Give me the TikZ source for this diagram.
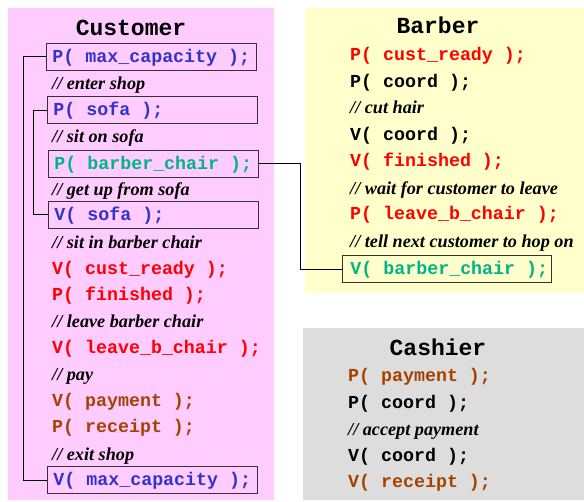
\documentclass[tikz,border=0pt]{standalone}
\usepackage{fontspec}
\setmainfont{Liberation Serif}
\newfontfamily\codefont{Liberation Mono}[BoldFont={* Bold}]
\newfontfamily\cmtfont{Liberation Serif}
\newcommand\csp{\hspace*{0.6em}}
\definecolor{cpink}{HTML}{FFCCFF}
\definecolor{cyellow}{HTML}{FFFFCC}
\definecolor{cgray}{HTML}{DDDDDD}
\definecolor{cblue}{HTML}{3333CC}
\definecolor{cteal}{HTML}{00B488}
\definecolor{cred}{HTML}{FF0000}
\definecolor{cbrown}{HTML}{A54200}
\tikzset{
  code/.style={anchor=west,inner sep=0pt,font=\codefont\bfseries\fontsize{18.3}{20}\selectfont,text height=13pt,text depth=2pt},
  cmt/.style={anchor=west,inner sep=0pt,font=\cmtfont\bfseries\itshape\fontsize{18.2}{20}\selectfont,text height=13pt,text depth=2pt},
  ttl/.style={inner sep=0pt,font=\codefont\bfseries\fontsize{23}{25}\selectfont},
  codebox/.style={code,draw=black!80,line width=0.9pt,text width=198pt,inner xsep=6pt,minimum height=27pt},
  link/.style={draw=black,line width=0.8pt},
}
\begin{document}
\begin{tikzpicture}[x=1pt,y=-1pt]
\useasboundingbox (0,0) rectangle (584,501);
% panels
\fill[cpink] (8,8) rectangle (274,500);
\fill[cyellow] (305,8) rectangle (584,293);
\fill[cgray] (303,328) rectangle (584,500);
% Customer
\node[ttl] (ctitle) at (131,28) {Customer};
\node[codebox,text=cblue] (pmax) at (46,56.5) {P(\csp max\_capacity\csp);};
\node[cmt] (c1) at (52,84) {// enter shop};
\node[codebox,text=cblue] (psofa) at (47,110) {P(\csp sofa\csp);};
\node[cmt] (c2) at (52,137) {// sit on sofa};
\node[codebox,text=cteal] (pbc) at (48,163.5) {P(\csp barber\_chair\csp);};
\node[cmt] (c3) at (52,190) {// get up from sofa};
\node[codebox,text=cblue] (vsofa) at (48,214.5) {V(\csp sofa\csp);};
\node[cmt] (c4) at (52,243) {// sit in barber chair};
\node[code,text=cred] (vcr) at (52,269) {V(\csp cust\_ready\csp);};
\node[code,text=cred] (pfin) at (52,295) {P(\csp finished\csp);};
\node[cmt] (c5) at (52,322) {// leave barber chair};
\node[code,text=cred] (vlbc) at (52,348) {V(\csp leave\_b\_chair\csp);};
\node[cmt] (c6) at (52,375) {// pay};
\node[code,text=cbrown] (vpay) at (52,401) {V(\csp payment\csp);};
\node[code,text=cbrown] (prec) at (52,427) {P(\csp receipt\csp);};
\node[cmt] (c7) at (52,455) {// exit shop};
\node[codebox,text=cblue] (vmax) at (47,480) {V(\csp max\_capacity\csp);};
% Barber
\node[ttl] (btitle) at (438,25) {Barber};
\node[code,text=cred] (bpcr) at (350,55) {P(\csp cust\_ready\csp);};
\node[code,text=black] (bpco) at (350,82) {P(\csp coord\csp);};
\node[cmt] (b1) at (350,108) {// cut hair};
\node[code,text=black] (bvco) at (350,135) {V(\csp coord\csp);};
\node[code,text=cred] (bvfin) at (350,161) {V(\csp finished\csp);};
\node[cmt] (b2) at (350,189) {// wait for customer to leave};
\node[code,text=cred] (bplbc) at (350,214) {P(\csp leave\_b\_chair\csp);};
\node[cmt] (b3) at (350,242) {// tell next customer to hop on};
\node[codebox,text=cteal,text width=193pt,inner xsep=8pt] (vbc) at (342,269) {V(\csp barber\_chair\csp);};
% Cashier
\node[ttl] (cstitle) at (438,347) {Cashier};
\node[code,text=cbrown] (kppay) at (348,376) {P(\csp payment\csp);};
\node[code,text=black] (kpco) at (348,403) {P(\csp coord\csp);};
\node[cmt] (k1) at (348,430) {// accept payment};
\node[code,text=black] (kvco) at (348,456) {V(\csp coord\csp);};
\node[code,text=cbrown] (kvrec) at (348,482) {V(\csp receipt\csp);};
% connectors
\draw[link] (pmax.west) -- ++(-23,0) |- (vmax.west);
\draw[link] (psofa.west) -- ++(-14,0) |- (vsofa.west);
\draw[link] (pbc.east) -- ++(41,0) |- (vbc.west);
\end{tikzpicture}
\end{document}
